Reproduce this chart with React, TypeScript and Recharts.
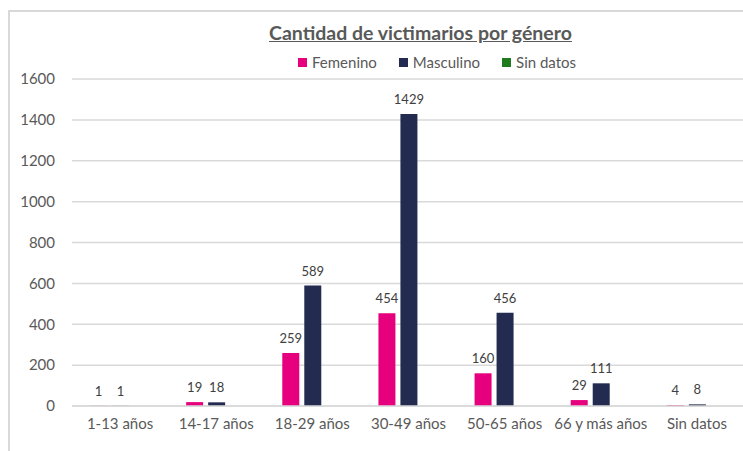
import { BarChart, Bar, XAxis, YAxis, CartesianGrid, LabelList } from "recharts";

const categories = ["1-13 años", "14-17 años", "18-29 años", "30-49 años", "50-65 años", "66 y más años", "Sin datos"];
const femenino = [1, 19, 259, 454, 160, 29, 4];
const masculino = [1, 18, 589, 1429, 456, 111, 8];
const sinDatos: (number | null)[] = [null, null, null, null, null, null, null];
const yTicks = [0, 200, 400, 600, 800, 1000, 1200, 1400, 1600];

const data = categories.map((name, i) => ({
    name,
    femenino: femenino[i],
    masculino: masculino[i],
    sinDatos: sinDatos[i],
}));

const FONT = "Lato, 'Liberation Sans', sans-serif";

const legendItems = [
    { label: "Femenino", color: "#e6007e" },
    { label: "Masculino", color: "#232b50" },
    { label: "Sin datos", color: "#1e7b1e" },
];

function ChartLegend() {
    return (
        <div
            style={{
                position: "absolute",
                top: 41,
                left: 288,
                display: "flex",
                gap: 22,
                fontFamily: FONT,
                fontSize: 15,
                color: "#595959",
                whiteSpace: "nowrap",
            }}
        >
            {legendItems.map((item) => (
                <span key={item.label} style={{ display: "flex", alignItems: "center" }}>
                    <span style={{ width: 9, height: 9, background: item.color, marginRight: 5, display: "inline-block" }} />
                    {item.label}
                </span>
            ))}
        </div>
    );
}

export default function App() {
    return (
        <div
            style={{
                position: "absolute",
                left: 8,
                top: 10,
                width: 735,
                height: 441,
                borderLeft: "2px solid #d9d9d9",
                borderTop: "2px solid #d9d9d9",
                boxSizing: "border-box",
                overflow: "hidden",
                background: "#fff",
            }}
        >
            <div
                style={{
                    position: "absolute",
                    top: 9,
                    left: 259,
                    fontFamily: FONT,
                    fontSize: 19.5,
                    fontWeight: 700,
                    color: "#595959",
                    textDecoration: "underline",
                    whiteSpace: "nowrap",
                }}
            >
                Cantidad de victimarios por género
            </div>
            <ChartLegend />
            <BarChart
                width={735}
                height={439}
                data={data}
                margin={{ top: 67, right: 0, bottom: 15, left: 0 }}
                barSize={17}
                barGap={5}
            >
                <CartesianGrid vertical={false} stroke="#d9d9d9" strokeWidth={1.5} />
                <XAxis
                    dataKey="name"
                    axisLine={{ stroke: "#d9d9d9", strokeWidth: 1.5 }}
                    tickLine={false}
                    tickMargin={6}
                    height={30}
                    interval={0}
                    tick={{ fill: "#595959", fontSize: 15, fontFamily: FONT }}
                />
                <YAxis
                    domain={[0, 1600]}
                    ticks={yTicks}
                    axisLine={false}
                    tickLine={false}
                    tickMargin={11}
                    width={62}
                    tick={{ fill: "#595959", fontSize: 15, fontFamily: FONT }}
                />
                <Bar dataKey="femenino" name="Femenino" fill="#e6007e" isAnimationActive={false}>
                    <LabelList dataKey="femenino" position="top" offset={10} fill="#404040" fontSize={13} fontFamily={FONT} />
                </Bar>
                <Bar dataKey="masculino" name="Masculino" fill="#232b50" isAnimationActive={false}>
                    <LabelList dataKey="masculino" position="top" offset={10} fill="#404040" fontSize={13} fontFamily={FONT} />
                </Bar>
                <Bar dataKey="sinDatos" name="Sin datos" fill="#1e7b1e" isAnimationActive={false} />
            </BarChart>
        </div>
    );
}
